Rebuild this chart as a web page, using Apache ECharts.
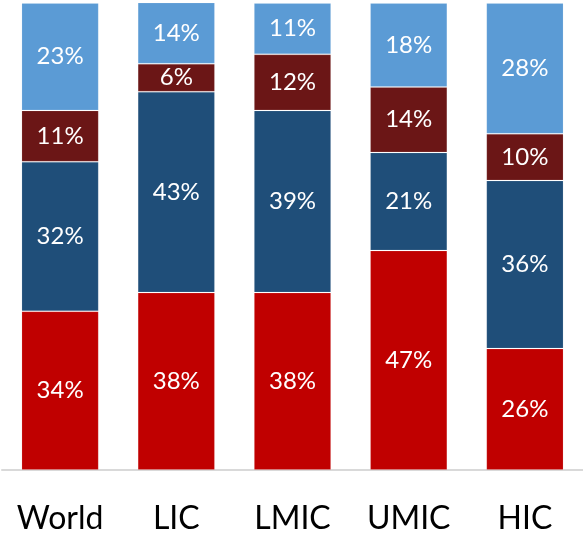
<!DOCTYPE html>
<html>
<head>
<meta charset="utf-8">
<script src="https://cdn.jsdelivr.net/npm/echarts@6/dist/echarts.min.js"></script>
<style>
  html, body { margin: 0; padding: 0; background: #ffffff; }
  #chart { width: 583px; height: 540px; }
</style>
</head>
<body>
<div id="chart"></div>
<script>
// Income groups along the x axis
const categories = ['World', 'LIC', 'LMIC', 'UMIC', 'HIC'];

// Shares (%) per group, stacked bottom to top
const seriesRed = [34, 38, 38, 47, 26];
const seriesNavy = [32, 43, 39, 21, 36];
const seriesMaroon = [11, 6, 12, 14, 10];
const seriesLightBlue = [23, 14, 11, 18, 28];

const stackLayers = [
  { name: 'A', data: seriesRed, color: '#C00000' },
  { name: 'B', data: seriesNavy, color: '#1F4E79' },
  { name: 'C', data: seriesMaroon, color: '#6B1616' },
  { name: 'D', data: seriesLightBlue, color: '#5B9BD5' }
];

const chart = echarts.init(document.getElementById('chart'), null, { renderer: 'canvas' });

chart.setOption({
  animation: false,
  backgroundColor: '#ffffff',
  grid: { left: 2, top: 3, width: 583, bottom: 70, containLabel: false },
  xAxis: {
    type: 'category',
    data: categories,
    axisTick: { show: false },
    axisLine: { show: true, lineStyle: { color: '#D9D9D9', width: 2 } },
    axisLabel: {
      color: '#000000',
      fontFamily: 'Lato',
      fontSize: 32,
      margin: 33
    }
  },
  yAxis: {
    type: 'value',
    min: 0,
    max: 100,
    show: false,
    splitLine: { show: false }
  },
  series: stackLayers.map(layer => ({
    name: layer.name,
    type: 'bar',
    stack: 'total',
    data: layer.data,
    barWidth: '66.5%',
    itemStyle: {
      color: layer.color,
      borderColor: 'rgba(255,255,255,0.12)',
      borderWidth: 1
    },
    label: {
      show: true,
      position: 'inside',
      formatter: p => p.value + '%',
      color: '#ffffff',
      fontFamily: 'Lato',
      fontSize: 24
    }
  }))
});
</script>
</body>
</html>
